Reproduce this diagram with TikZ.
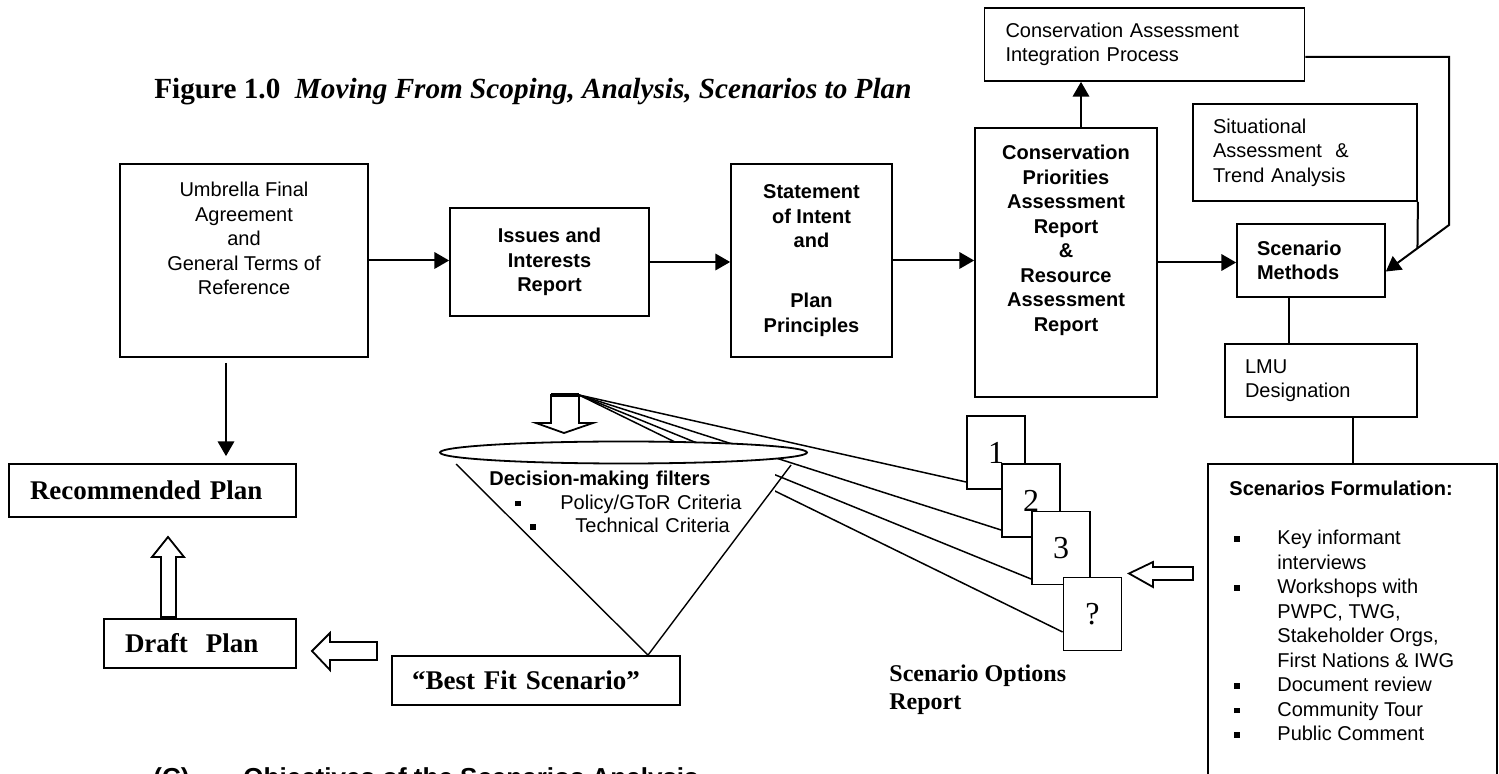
\documentclass[tikz,border=0pt]{standalone}
\usepackage{fontspec}
\setmainfont{Liberation Serif}
\setsansfont{Liberation Sans}
\usetikzlibrary{arrows,shapes.geometric}

% small square bullet
\newcommand{\sq}{\raisebox{1.6pt}{\rule{2.6pt}{2.6pt}}}
\newcommand{\sfit}{\makebox[24pt][l]{\hspace{2.5pt}\sq}}
\newcommand{\sfin}{\hspace*{24pt}}
\newcommand{\dmline}[2]{\hspace*{#1}\sq\hspace{19.9pt}#2}

\begin{document}
\begin{tikzpicture}[x=0.5pt,y=-0.5pt,>=triangle 60,
    box/.style={shape=rectangle,draw=black,line width=0.9pt,inner sep=0pt,
      font=\sffamily\fontsize{10}{12.25}\selectfont,align=center},
    boldbox/.style={box,font=\sffamily\bfseries\fontsize{10}{12.25}\selectfont},
    serifbox/.style={box,font=\bfseries\fontsize{13.5}{15}\selectfont,align=left,inner xsep=10.5pt},
    page/.style={box,fill=white,minimum width=29pt,minimum height=36.5pt,
      font=\fontsize{16}{18}\selectfont},
    conn/.style={line width=1pt},
    fan/.style={line width=0.75pt},
    hollow/.style={draw=black,line width=0.9pt,fill=white}]

    \useasboundingbox (0,0) rectangle (1499,774);
    \clip (0,0) rectangle (1499,774);

    \node[anchor=base west,inner sep=0pt,font=\bfseries\fontsize{14.6}{16}\selectfont] (title) at (154,99)
      {Figure 1.0\ \ \textit{Moving From Scoping, Analysis, Scenarios to Plan}};

    % top row
    \node[box,minimum width=124pt,minimum height=96.5pt] (ufa) at (244,260.5) {};
    \node[anchor=north,inner sep=0pt,align=center,font=\sffamily\fontsize{10}{12.25}\selectfont]
      (ufatxt) at (244,182) {Umbrella Final\\Agreement\\and\\General Terms of\\Reference};
    \node[boldbox,minimum width=99.5pt,minimum height=54pt] (issues) at (549.5,262)
      {Issues and\\Interests\\Report};
    \node[boldbox,minimum width=80.5pt,minimum height=96.5pt] (soi) at (811.5,260.5)
      {Statement\\of Intent\\and\\[17.75pt]Plan\\Principles};
    \node[box,minimum width=91pt,minimum height=134.5pt] (cpar) at (1066,262.5) {};
    \node[anchor=north,inner sep=0pt,align=center,font=\sffamily\bfseries\fontsize{10}{12.25}\selectfont]
      (cpartxt) at (1066,145) {Conservation\\Priorities\\Assessment\\Report\\\&\\Resource\\Assessment\\Report};
    \node[box,align=left,text width=139pt,inner xsep=10.5pt,minimum height=36.5pt] (caip) at (1144.5,44.5)
      {Conservation Assessment\\Integration Process};
    \node[box,align=left,text width=92pt,inner xsep=10pt,minimum height=48.5pt] (sit) at (1305,152.5)
      {Situational\\Assessment\ \ \&\\Trend Analysis};
    \node[boldbox,align=left,text width=54pt,inner xsep=10pt,minimum height=36.5pt] (sm) at (1311,260.5)
      {Scenario\\Methods};
    \node[box,align=left,text width=76pt,inner xsep=10pt,minimum height=36.5pt] (lmu) at (1321,380.5)
      {LMU\\Designation};
    \node[box,minimum width=144.5pt,minimum height=168pt] (sf) at (1352.5,632) {};
    \node[anchor=north west,inner sep=0pt,align=left,font=\sffamily\fontsize{10}{12.25}\selectfont]
      (sftxt) at (1229,481) {\textbf{Scenarios Formulation:}\\[12.25pt]
      \sfit Key informant\\ \sfin interviews\\
      \sfit Workshops with\\ \sfin PWPC, TWG,\\ \sfin Stakeholder Orgs,\\ \sfin First Nations \& IWG\\
      \sfit Document review\\ \sfit Community Tour\\ \sfit Public Comment};

    % bottom left
    \node[serifbox,text width=122.5pt,minimum height=26.5pt] (rec) at (152.5,490.5) {Recommended Plan};
    \node[serifbox,text width=75pt,minimum height=24.5pt] (draft) at (200,643.5) {Draft\ \ Plan};
    \node[serifbox,text width=124pt,inner xsep=10pt,minimum height=24.5pt] (best) at (536,680.5)
      {“Best Fit Scenario”};
    \node[anchor=north west,inner sep=0pt,align=left,font=\bfseries\fontsize{12}{14}\selectfont]
      (sor) at (889,664) {Scenario Options\\Report};
    \node[anchor=base west,inner sep=0pt,font=\sffamily\bfseries\fontsize{13}{15}\selectfont] (obj) at (153,786)
      {(C)\hspace{27pt}Objectives of the Scenarios Analysis};

    % scenario pages
    \node[page] (p1) at (996,452.5) {1};
    \node[page] (p2) at (1031,500.5) {2};
    \node[page] (p3) at (1061,548) {3};
    \node[page] (p4) at (1092.5,614) {?};

    % connectors
    \draw[conn,->] (ufa.east) -- (ufa.east -| issues.west);
    \draw[conn,->] (issues.east) -- (issues.east -| soi.west);
    \draw[conn,->] (soi.east) -- (soi.east -| cpar.west);
    \draw[conn,->] (cpar.east) -- (cpar.east -| sm.west);
    \draw[conn,->] ([xshift=7.5pt]cpar.north) -- ([xshift=7.5pt]cpar.north |- caip.south);
    \coordinate (bend) at (1449,225);
    \coordinate (smin) at ([yshift=-5.5pt]sm.east);
    \draw[conn,->] ([yshift=-6.25pt]caip.east) -| (bend) -- (smin);
    \path (bend) -- (smin) coordinate[pos=0.5] (join);
    \draw[conn] (sit.south east) -- (join);
    \draw[conn] ([xshift=-11pt]sm.south) -- ([xshift=-11pt]sm.south |- lmu.north);
    \draw[conn] (lmu.south -| sf.north) -- (sf.north);
    \draw[conn,->,shorten <=2.5pt,shorten >=3.5pt] ([xshift=-9pt]ufa.south) -- ([xshift=-9pt]ufa.south |- rec.north);

    % filter funnel
    \coordinate (apex) at (579,395);
    \draw[fan] (apex) -- (p1.west |- 0,482);
    \draw[fan] (apex) -- (p2.west |- 0,530);
    \draw[fan] (apex) -- (p3.west |- 0,579);
    \draw[fan] (apex) -- (p4.west |- 0,632);
    \node[anchor=north west,fill=white,text width=138.5pt,inner xsep=4.5pt,inner ysep=7.5pt,align=left,
      font=\sffamily\fontsize{10}{11.75}\selectfont] (dmf) at (480,456)
      {\textbf{Decision-making filters}\\ \dmline{13pt}{Policy/GToR Criteria}\\ \dmline{20.5pt}{Technical Criteria}};
    \node[ellipse,draw=black,line width=0.9pt,fill=white,minimum width=183.5pt,minimum height=11pt,inner sep=0pt]
      (filter) at (623.5,452.5) {};
    \draw[line width=0.7pt] (456,464) -- (best.north -| 648,0) -- (791,465);

    % block arrows
    \draw[hollow] (551,395) -- (579,395) -- (579,423) -- (593,423) -- (564,433) -- (536,423) -- (551,423) -- cycle;
    \draw[line width=2pt] (551,395) -- (579,395);
    \draw[hollow] (161,617) -- (161,557) -- (152,557) -- (168,537) -- (184,557) -- (176,557) -- (176,617) -- cycle;
    \draw[hollow] (377,642) -- (330,642) -- (330,633) -- (312,651) -- (330,670) -- (330,660) -- (377,660) -- cycle;
    \draw[hollow] (1193,567) -- (1153,567) -- (1153,562) -- (1129,573.5) -- (1153,587) -- (1153,580) -- (1193,580) -- cycle;
\end{tikzpicture}
\end{document}
